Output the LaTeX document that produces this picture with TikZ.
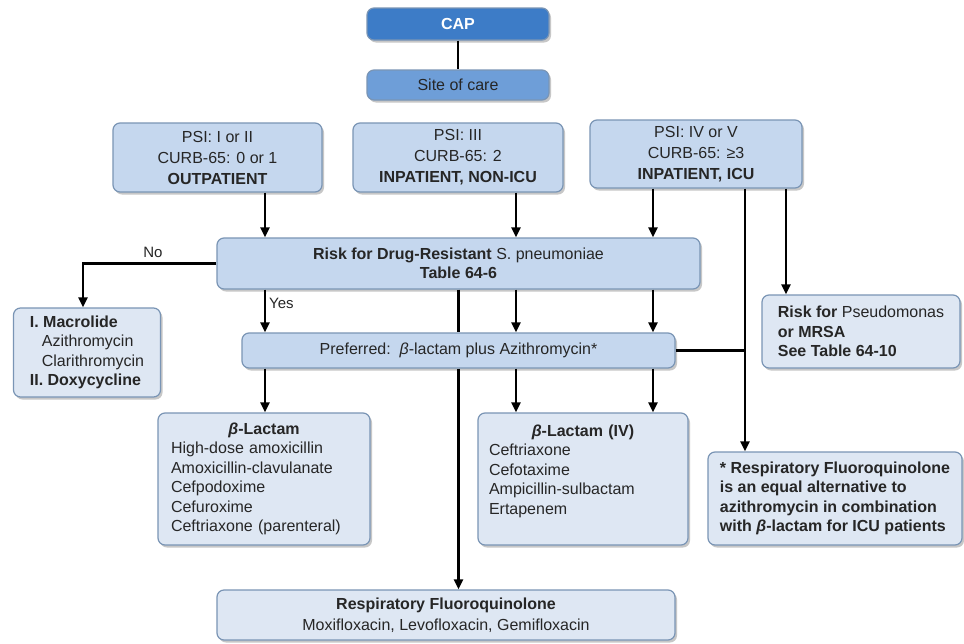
\documentclass[tikz,border=0pt]{standalone}
\usepackage{fontspec}
\setmainfont{Liberation Sans}
\usetikzlibrary{shadows,arrows.meta}
\definecolor{capblue}{HTML}{3D7CC7}
\definecolor{siteblue}{HTML}{6E9ED8}
\definecolor{midfill}{HTML}{C5D7EE}
\definecolor{lightfill}{HTML}{DEE7F3}
\definecolor{edge}{HTML}{7A95B5}
\definecolor{ink}{HTML}{262626}
\begin{document}
\begin{tikzpicture}[x=1pt,y=-1pt,
  base/.style={draw=edge, line width=1.2pt, rounded corners=7pt,
    drop shadow={shadow xshift=2pt, shadow yshift=-2.5pt, opacity=0.4, fill=black!55},
    inner sep=0pt, text=ink, font=\fontsize{16}{19.5}\selectfont},
  mid/.style={base, fill=midfill, align=center},
  light/.style={base, fill=lightfill},
  arr/.style={line width=2.2pt, -{Triangle[length=10pt,width=9pt]}},
  ln/.style={line width=2.2pt},
  lbl/.style={text=ink, font=\fontsize{15}{17}\selectfont, inner sep=1pt},
]
\fill[white] (0,0) rectangle (964,643);
\useasboundingbox (0,0) rectangle (964,643);

\node[base, fill=capblue, text=white, font=\bfseries\fontsize{16}{19}\selectfont,
  minimum width=182pt, minimum height=32pt] (cap) at (458,24) {CAP};
\node[base, fill=siteblue, minimum width=182pt, minimum height=30pt] (site) at (458,85) {Site of care};

\node[mid, font=\fontsize{16}{21}\selectfont, minimum width=209pt, minimum height=69pt] (psi1) at (217.5,157.5)
  {PSI: I or II\\CURB-65: 0 or 1\\\textbf{OUTPATIENT}};
\node[mid, font=\fontsize{16}{21}\selectfont, minimum width=210pt, minimum height=69pt] (psi2) at (458,157.5)
  {PSI: III\\CURB-65: 2\\\textbf{INPATIENT, NON-ICU}};
\node[mid, font=\fontsize{16}{21}\selectfont, minimum width=212pt, minimum height=68pt] (psi3) at (696,154)
  {PSI: IV or V\\CURB-65: ≥3\\\textbf{INPATIENT, ICU}};

\node[mid, minimum width=483pt, minimum height=51pt] (risk) at (458.5,263.5)
  {\textbf{Risk for Drug-Resistant} S. pneumoniae\\\textbf{Table 64-6}};
\node[mid, minimum width=433pt, minimum height=35pt] (pref) at (458.5,350.5)
  {Preferred:\ \ \textit{β}-lactam plus Azithromycin*};

\node[light, align=left, minimum width=147pt, minimum height=89pt] (macro) at (87,352.5)
  {\textbf{I. Macrolide}\\\hspace*{12pt}Azithromycin\\\hspace*{12pt}Clarithromycin\\\textbf{II. Doxycycline}};
\node[light, align=left, minimum width=198pt, minimum height=73pt] (pseudo) at (861,331.5)
  {\textbf{Risk for} Pseudomonas\\\textbf{or MRSA}\\\textbf{See Table 64-10}};

\node[light, align=left, text width=186pt, minimum width=212pt, minimum height=132pt] (bl) at (264,479)
  {\makebox[186pt]{\textbf{\textit{β}-Lactam}}\\High-dose amoxicillin\\Amoxicillin-clavulanate\\Cefpodoxime\\Cefuroxime\\Ceftriaxone (parenteral)};
\node[light, align=left, text width=188pt, minimum width=210pt, minimum height=132pt] (bliv) at (583,479)
  {\makebox[188pt]{\textbf{\textit{β}-Lactam (IV)}}\\Ceftriaxone\\Cefotaxime\\Ampicillin-sulbactam\\Ertapenem\\\mbox{}};
\node[light, align=left, font=\bfseries\fontsize{16}{19.5}\selectfont, minimum width=254pt, minimum height=93pt] (note) at (835,498.5)
  {* Respiratory Fluoroquinolone\\is an equal alternative to\\azithromycin in combination\\with \textit{β}-lactam for ICU patients};
\node[light, align=center, font=\fontsize{16}{21}\selectfont, minimum width=458pt, minimum height=50pt] (rfq) at (446,615)
  {\textbf{Respiratory Fluoroquinolone}\\Moxifloxacin, Levofloxacin, Gemifloxacin};

\coordinate (xa) at (265,0);
\coordinate (xb) at (458.5,0);
\coordinate (xc) at (516,0);
\coordinate (xd) at (653,0);
\coordinate (xe) at (745,0);
\coordinate (xf) at (786,0);
\coordinate (xg) at (83,0);

\draw[ln] (cap) -- (site);
\draw[arr] (xa |- psi1.south) -- (xa |- risk.north);
\draw[arr] (xc |- psi2.south) -- (xc |- risk.north);
\draw[arr] (xd |- psi3.south) -- (xd |- risk.north);
\draw[arr] (xf |- psi3.south) -- (xf |- pseudo.north);
\draw[arr] (xe |- psi3.south) -- (xe |- note.north);
\draw[ln] (pref.east) -- (xe |- pref.east);
\draw[arr] (risk.west) -| (xg |- macro.north);
\node[lbl] (no) at (153,252) {No};
\draw[arr] (xa |- risk.south) -- (xa |- pref.north);
\node[lbl, anchor=west] (yes) at (268,303) {Yes};
\draw[ln] (xb |- risk.south) -- (xb |- pref.north);
\draw[arr] (xc |- risk.south) -- (xc |- pref.north);
\draw[arr] (xd |- risk.south) -- (xd |- pref.north);
\draw[arr] (xa |- pref.south) -- (xa |- bl.north);
\draw[arr] (xb |- pref.south) -- (xb |- rfq.north);
\draw[arr] (xc |- pref.south) -- (xc |- bliv.north);
\draw[arr] (xd |- pref.south) -- (xd |- bliv.north);
\end{tikzpicture}
\end{document}
